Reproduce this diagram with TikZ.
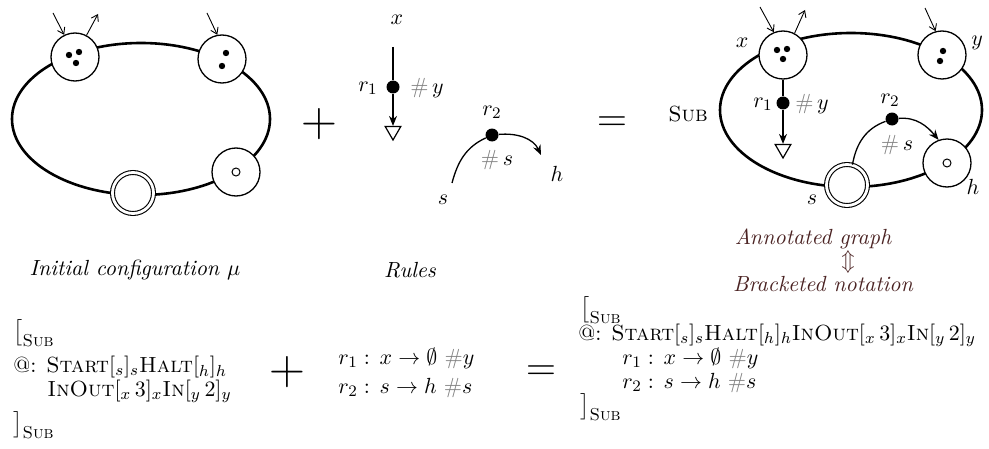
\documentclass[tikz,border=0pt]{standalone}
\usepackage{amsmath}
\usetikzlibrary{arrows.meta,shapes.geometric}
\definecolor{annot}{RGB}{75,35,35}
\newcommand{\subsc}{\text{\fontsize{8.6}{9}\selectfont\textsc{Sub}}}
\tikzset{
  graphline/.style={line width=1.3pt},
  blob/.style={circle,draw,fill=white,line width=0.65pt,minimum size=24pt,inner sep=0pt},
  dblob/.style={circle,draw,fill=white,line width=0.55pt,double,double distance=1.4pt,minimum size=20.5pt,inner sep=0pt},
  tinyc/.style={circle,draw,line width=0.5pt,minimum size=4pt,inner sep=0pt},
  rdot/.style={circle,fill=black,minimum size=6.5pt,inner sep=0pt},
  tri/.style={regular polygon,regular polygon sides=3,shape border rotate=180,draw,fill=white,line width=0.6pt,minimum size=9pt,inner sep=0pt},
  thinarrow/.style={-{Straight Barb[length=3pt,width=4pt]},line width=0.45pt},
  rulearrow/.style={-{Stealth[length=5pt,width=4pt]},line width=0.65pt},
  ruleline/.style={line width=0.65pt},
  lbl/.style={inner sep=1pt},
  txt/.style={anchor=west,inner sep=0pt},
}
\begin{document}
\begin{tikzpicture}[x=0.5pt,y=-0.5pt,every node/.style={font=\fontsize{10.95}{13}\selectfont}]
\useasboundingbox (0,0) rectangle (989,449);

% ---------- left graph ----------
\draw[graphline] (141,119) ellipse [x radius=64.5pt, y radius=38pt];
\node[blob] (A) at (75,57) {};
\node[blob] (B) at (222,59) {};
\node[dblob] (S) at (133,193) {};
\node[blob] (H) at (236,172) {};
\node[tinyc] (Hc) at (236,172) {};
\fill (69,55) circle (1.6pt) (79,52) circle (1.6pt) (76,63) circle (1.6pt);
\fill (226,53) circle (1.6pt) (222,66) circle (1.6pt);
\coordinate (a1) at (53,13);
\coordinate (a2) at (98,14);
\coordinate (b1) at (207,13);
\draw[thinarrow] (a1) -- (A.116);
\draw[thinarrow] (A.62) -- (a2);
\draw[thinarrow] (b1) -- (B.101);

\node (plus1) at (319,124) {\Huge $+$};
\node (eq1) at (612,124) {\huge $=$};

% ---------- rules ----------
\node[lbl] (rx) at (397,20) {$x$};
\coordinate (rxtop) at (393,47);
\node[rdot] (d1) at (393,87) {};
\node[tri] (t1) at (393,131) {};
\node[lbl] (r1l) at (368,88) {$r_1$};
\node[lbl] (r1h) at (427,88) {$\color{gray}\#\,$$y$};
\draw[ruleline] (rxtop) -- (d1);
\draw[rulearrow] (d1) -- (t1.north);

\coordinate (rs) at (452,183);
\node[rdot] (d2) at (492,135) {};
\coordinate (rh) at (541,155);
\draw[ruleline] (rs) to[out=75,in=205] (d2);
\draw[rulearrow] (d2) to[out=5,in=115] (rh);
\node[lbl] (r2l) at (492,112) {$r_2$};
\node[lbl] (r2h) at (497,160) {$\color{gray}\#\,$$s$};
\node[lbl] (rsl) at (443,200) {$s$};
\node[lbl] (rhl) at (557,174) {$h$};

% ---------- right graph ----------
\draw[graphline] (851,110) ellipse [x radius=65.5pt, y radius=38.5pt];
\node[blob] (X) at (783,55) {};
\node[blob] (Y) at (942,55) {};
\node[dblob] (S2) at (847,185) {};
\node[blob] (H2) at (947,163) {};
\node[tinyc] (H2c) at (947,163) {};
\fill (777,50) circle (1.6pt) (787,49) circle (1.6pt) (783,59) circle (1.6pt);
\fill (943,51) circle (1.6pt) (940,61) circle (1.6pt);
\coordinate (x1) at (760,7);
\coordinate (x2) at (805,10);
\coordinate (y1) at (925,8);
\draw[thinarrow] (x1) -- (X.112);
\draw[thinarrow] (X.62) -- (x2);
\draw[thinarrow] (y1) -- (Y.105);
\node[lbl] (xl) at (742,43) {$x$};
\node[lbl] (yl) at (977,43) {$y$};
\node[lbl] (sl) at (812,200) {$s$};
\node[lbl] (hl) at (973,187) {$h$};
\node[lbl] (subl) at (688,114) {\textsc{Sub}};

\node[rdot] (d3) at (783,103) {};
\node[tri] (t3) at (783,149) {};
\draw[ruleline] (X.south) -- (d3);
\draw[rulearrow] (d3) -- (t3.north);
\node[lbl] (r1l2) at (763,104) {$r_1$};
\node[lbl] (r1h2) at (812,104) {$\color{gray}\#\,$$y$};

\node[rdot] (d4) at (892,119) {};
\draw[ruleline] (S2.75) to[out=80,in=200] (d4);
\draw[rulearrow] (d4) to[out=5,in=130] (H2.110);
\node[lbl] (r2l2) at (890,100) {$r_2$};
\node[lbl] (r2h2) at (897,145) {$\color{gray}\#\,$$s$};

% ---------- captions ----------
\node (cap1) at (135,270) {\itshape Initial configuration $\mu$};
\node (cap2) at (410,270) {\itshape Rules};
\node[text=annot,inner sep=0pt] (ann) at (813,239) {\itshape Annotated graph};
\node[text=annot,inner sep=0pt] (updown) at (848,262) {$\Updownarrow$};
\node[text=annot,inner sep=0pt] (brk) at (823,284) {\itshape Bracketed notation};

% ---------- bracketed notation, left ----------
\node[txt] (L1) at (13,333) {$\big[_{\subsc}$};
\node[txt] (L2) at (13,367) {@: \textsc{Start}$[_s]_s$\textsc{Halt}$[_h]_h$};
\node[txt] (L3) at (47,391) {\textsc{InOut}$[_x\,3]_x$\textsc{In}$[_y\,2]_y$};
\node[txt] (L4) at (13,425) {$\big]_{\subsc}$};
\node (plus2) at (287,372) {\Huge $+$};

% ---------- rules, middle ----------
\node[txt] (M1) at (338,358) {$r_1:\,x\to\emptyset\ {\color{gray}\#}y$};
\node[txt] (M2) at (338,388) {$r_2:\,s\to h\ {\color{gray}\#}s$};
\node (eq2) at (541,373) {\huge $=$};

% ---------- bracketed notation, right ----------
\node[txt] (R1) at (580,310) {$\big[_{\subsc}$};
\node[txt] (R2) at (578,335) {@: \textsc{Start}$[_s]_s$\textsc{Halt}$[_h]_h$\textsc{InOut}$[_x\,3]_x$\textsc{In}$[_y\,2]_y$};
\node[txt] (R3) at (622,358) {$r_1:\,x\to\emptyset\ {\color{gray}\#}y$};
\node[txt] (R4) at (622,383) {$r_2:\,s\to h\ {\color{gray}\#}s$};
\node[txt] (R5) at (580,407) {$\big]_{\subsc}$};
\end{tikzpicture}
\end{document}
